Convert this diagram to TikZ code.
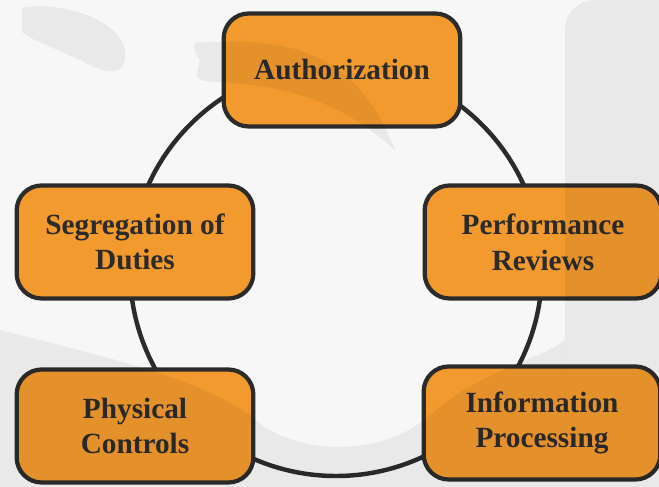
\documentclass[tikz,border=0pt]{standalone}
\usepackage{fontspec}
\setmainfont{Liberation Serif}[BoldFont={Liberation Serif Bold}]
\usetikzlibrary{positioning}
\definecolor{boxorange}{HTML}{F29A2E}
\definecolor{boxline}{HTML}{2B2B2B}
\definecolor{pagegrey}{HTML}{F7F7F7}

\begin{document}
\begin{tikzpicture}[x=0.03cm, y=-0.03cm,
    ctrl/.style={draw=boxline, fill=boxorange, line width=3.6pt,
        rounded corners=0.75cm, minimum width=7.1cm, minimum height=3.39cm,
        align=center, text=boxline, font=\fontsize{25}{30.5}\selectfont\bfseries},
    ring/.style={draw=boxline, line width=3.8pt},
    wmark/.style={fill=black, fill opacity=0.055}]
    % page
    \fill[pagegrey] (0,0) rectangle (659,487);
    \useasboundingbox (0,0) rectangle (659,487);
    \clip (0,0) rectangle (659,487);

    % the cycle behind the boxes
    \coordinate (hub) at (336,270);
    \draw[ring] (hub) circle (6.18cm);

    % the five controls
    \node[ctrl] (auth) at (342,70) {Authorization};
    \node[ctrl] (segr) at (135,242) {Segregation of\\Duties};
    \node[ctrl] (perf) at (543,242) {Performance\\Reviews};
    \node[ctrl] (phys) at (135,426) {Physical\\Controls};
    \node[ctrl] (info) at (542,423) {Information\\Processing};

    % faint watermark over everything
    \fill[wmark] (565,487) -- (565,30) arc (180:270:30) -- (659,0) -- (659,487) -- cycle;
    \fill[wmark] (0,330) .. controls (120,360) and (200,380) .. (250,415)
        .. controls (290,455) and (380,460) .. (430,415)
        .. controls (480,370) and (540,360) .. (565,340) -- (565,487) -- (0,487) -- cycle;
    \fill[wmark] (22,8) .. controls (60,0) and (120,20) .. (125,50)
        .. controls (128,75) and (110,75) .. (90,65)
        .. controls (60,50) and (30,40) .. (22,32) -- cycle;
    \fill[wmark] (200,60) .. controls (190,42) .. (215,42)
        .. controls (300,38) and (360,60) .. (395,150)
        .. controls (350,110) and (300,85) .. (215,82)
        .. controls (195,80) .. cycle;
\end{tikzpicture}
\end{document}
